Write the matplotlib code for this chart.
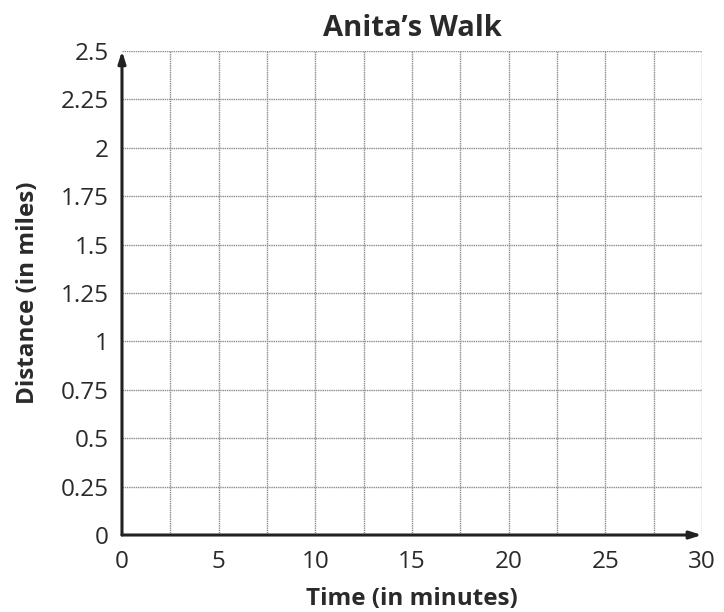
import numpy as np
import matplotlib.pyplot as plt

plt.rcParams['font.family'] = ['Open Sans', 'DejaVu Sans']

title = "Anita\u2019s Walk"
x_label = 'Time (in minutes)'
y_label = 'Distance (in miles)'
x_ticks = [0, 5, 10, 15, 20, 25, 30]
y_ticks = [0, 0.25, 0.5, 0.75, 1, 1.25, 1.5, 1.75, 2, 2.25, 2.5]
y_tick_labels = ['0', '0.25', '0.5', '0.75', '1', '1.25', '1.5', '1.75', '2', '2.25', '2.5']
x_grid = np.arange(0, 30.1, 2.5)

fig = plt.figure(figsize=(7.24, 6.12), dpi=100)
ax = fig.add_axes([0.1685, 0.1258, 0.801, 0.791])
ax.set_xlim(0, 30)
ax.set_ylim(0, 2.5)

# grid
for gx in x_grid[1:]:
    ax.axvline(gx, color='#8c8c8c', lw=1.0, ls=(0, (1, 0.6)), zorder=1)
for gy in y_ticks[1:]:
    ax.axhline(gy, color='#8c8c8c', lw=1.0, ls=(0, (1, 0.6)), zorder=1)

for s in ax.spines.values():
    s.set_visible(False)

# axes with arrows
ax.annotate('', xy=(30, 0), xytext=(0, 0),
            arrowprops=dict(arrowstyle='-|>,head_length=0.7,head_width=0.22',
                            color='#222222', lw=2.2, shrinkA=0, shrinkB=0),
            annotation_clip=False, zorder=3)
ax.annotate('', xy=(0, 2.5), xytext=(0, 0),
            arrowprops=dict(arrowstyle='-|>,head_length=0.7,head_width=0.22',
                            color='#222222', lw=2.2, shrinkA=0, shrinkB=0),
            annotation_clip=False, zorder=3)

ax.set_xticks(x_ticks)
ax.set_xticklabels([str(t) for t in x_ticks])
ax.set_yticks(y_ticks)
ax.set_yticklabels(y_tick_labels)
ax.tick_params(length=0, labelsize=17.5, colors='#2a2a2a')
ax.tick_params(axis='x', pad=11)
ax.tick_params(axis='y', pad=9.5)

ax.set_title(title, fontsize=21, fontweight='bold', color='#2a2a2a', pad=11)
ax.set_xlabel(x_label, fontsize=17.5, fontweight='bold', color='#2a2a2a', labelpad=9)
ax.set_ylabel(y_label, fontsize=17.5, fontweight='bold', color='#2a2a2a', labelpad=15)

fig.savefig('out.png', dpi=100)
